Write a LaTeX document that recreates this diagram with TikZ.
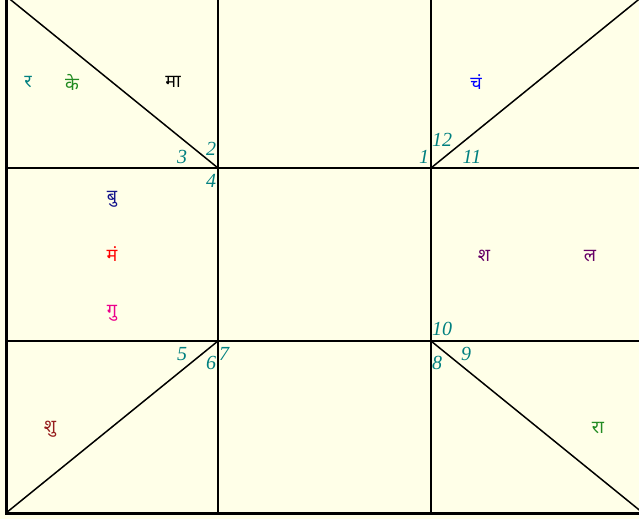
\documentclass[tikz,border=0pt]{standalone}
\usepackage{fontspec}
\setmainfont{Liberation Serif}
\newfontfamily\devfont[Script=Devanagari]{Noto Sans}
\usepackage{xcolor}
\usetikzlibrary{positioning, calc}

\definecolor{chartbg}{RGB}{255,255,232}
\definecolor{numcol}{RGB}{0,128,128}
\definecolor{grahgreen}{RGB}{34,139,34}
\definecolor{grahnavy}{RGB}{20,20,140}
\definecolor{grahbrown}{RGB}{150,30,30}

\tikzset{
  grah/.style={font=\devfont\fontsize{18}{18}\selectfont, inner sep=0pt},
  bhava/.style={font=\itshape\fontsize{20}{20}\selectfont, text=numcol, inner sep=0pt}
}

\begin{document}
\begin{tikzpicture}[x=1pt, y=-1pt]
        \useasboundingbox (0,0) rectangle (639,519);
        \clip (0,0) rectangle (639,519);
        \fill[chartbg] (0,0) rectangle (639,519);

        % Grid
        \draw[line width=1.5pt] (218,-4) -- (218,513);
        \draw[line width=1.5pt] (431,-4) -- (431,513);
        \draw[line width=1.5pt] (6,168) -- (643,168);
        \draw[line width=1.5pt] (6,341) -- (643,341);

        % Corner diagonals
        \draw[line width=1.5pt] (6,-4) -- (218,168);
        \draw[line width=1.5pt] (643,-4) -- (431,168);
        \draw[line width=1.5pt] (6,513) -- (218,341);
        \draw[line width=1.5pt] (643,513) -- (431,341);

        % Outer frame
        \draw[line width=3pt] (6,-4) rectangle (643,513);

        % Grahas
        \node[grah, text=numcol] (ra) at (28,82) {र};
        \node[grah, text=grahgreen] (ke) at (72,82) {के};
        \node[grah, text=black] (ma) at (173,82) {मा};
        \node[grah, text=blue] (ch) at (476,82) {चं};
        \node[grah, text=grahnavy] (bu) at (112,199) {बु};
        \node[grah, text=red] (mn) at (112,254) {मं};
        \node[grah, text=magenta] (gu) at (112,313) {गु};
        \node[grah, text=violet!80!black] (sh) at (484,256) {श};
        \node[grah, text=violet!80!black] (la) at (590,256) {ल};
        \node[grah, text=grahbrown] (shu) at (50,429) {शु};
        \node[grah, text=grahgreen] (rahu) at (598,428) {रा};

        % House numbers
        \node[bhava] (h2) at (211,149) {2};
        \node[bhava] (h3) at (182,157) {3};
        \node[bhava] (h4) at (211,181) {4};
        \node[bhava] (h12) at (442,140) {12};
        \node[bhava] (h1) at (424,157) {1};
        \node[bhava] (h11) at (472,157) {11};
        \node[bhava] (h10) at (442,329) {10};
        \node[bhava] (h9) at (466,354) {9};
        \node[bhava] (h5) at (182,354) {5};
        \node[bhava] (h6) at (211,363) {6};
        \node[bhava] (h7) at (224,354) {7};
        \node[bhava] (h8) at (437,363) {8};
    \end{tikzpicture}
\end{document}
